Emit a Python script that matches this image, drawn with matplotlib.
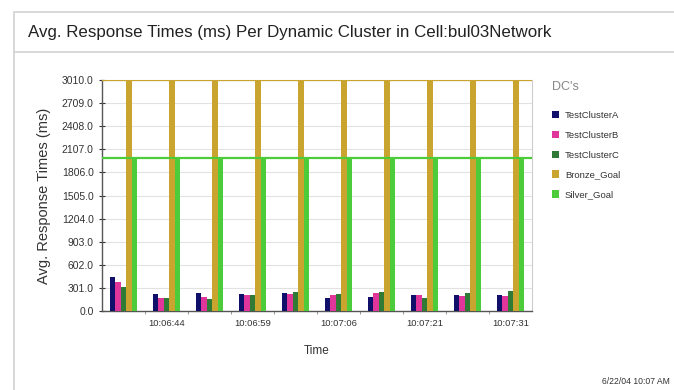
import matplotlib
matplotlib.use("Agg")
import matplotlib.pyplot as plt
import numpy as np
from matplotlib.patches import Rectangle
from matplotlib.lines import Line2D

plt.rcParams['font.family'] = ['Liberation Sans', 'DejaVu Sans']

# Sample times (only every other sample is labelled on the axis)
tick_labels = ["", "10:06:44", "", "10:06:59", "", "10:07:06", "", "10:07:21", "", "10:07:31"]

series_names = ["TestClusterA", "TestClusterB", "TestClusterC", "Bronze_Goal", "Silver_Goal"]
cluster_a = [447, 221, 234, 221, 234, 173, 182, 208, 208, 208]
cluster_b = [382, 173, 186, 208, 221, 208, 234, 208, 196, 196]
cluster_c = [317, 173, 156, 208, 247, 221, 247, 175, 234, 260]
bronze_goal = [3010] * 10
silver_goal = [2000] * 10

y_ticks = [0.0, 301.0, 602.0, 903.0, 1204.0, 1505.0, 1806.0, 2107.0, 2408.0, 2709.0, 3010.0]

colors = ["#10106a", "#e0359a", "#2f7a34", "#c9a42e", "#4ccc3a"]

fig = plt.figure(figsize=(6.74, 3.90), dpi=100)
fig.patch.set_facecolor("white")

# Outer panel frame and title band
frame = Rectangle((14 / 674, -0.01), 1.0, 1 - 12 / 390 + 0.01, transform=fig.transFigure,
                  fill=False, edgecolor="#d2d2d2", linewidth=1.2)
fig.add_artist(frame)
fig.add_artist(Line2D([14 / 674, 1.0], [1 - 52 / 390] * 2, transform=fig.transFigure,
                      color="#d2d2d2", linewidth=1.2))
fig.text(28 / 674, 1 - 33 / 390, "Avg. Response Times (ms) Per Dynamic Cluster in Cell:bul03Network",
         fontsize=12.2, color="#222222", va="center", ha="left")

ax = fig.add_axes([102 / 674, 1 - 311 / 390, 430 / 674, 231 / 390])

series = [cluster_a, cluster_b, cluster_c, bronze_goal, silver_goal]
n = len(tick_labels)
x = np.arange(n)
bw = 0.125
for i, (vals, col, name) in enumerate(zip(series, colors, series_names)):
    ax.bar(x + (i - 2) * bw, vals, width=bw, color=col, label=name, zorder=3, linewidth=0)

# Goal lines across the whole plot
ax.axhline(bronze_goal[0], color=colors[3], linewidth=1.6, zorder=4)
ax.axhline(silver_goal[0], color=colors[4], linewidth=1.6, zorder=4)

ax.set_xlim(-0.5, n - 0.5)
ax.set_ylim(0, 3010)
ax.set_yticks(y_ticks)
ax.set_yticklabels([f"{v:.1f}" for v in y_ticks])
ax.set_xticks(x)
ax.set_xticklabels(tick_labels)
ax.set_xticks(np.arange(n - 1) + 0.5, minor=True)
ax.tick_params(axis="x", which="major", length=0, labelsize=6.8, pad=6, colors="#333333")
ax.tick_params(axis="x", which="minor", length=2, color="#888888")
ax.tick_params(axis="y", length=4, direction="inout", labelsize=7.5, colors="#333333", pad=4)
ax.grid(axis="y", color="#e2e2e2", linewidth=0.8, zorder=0)
for s in ["left", "bottom"]:
    ax.spines[s].set_color("#555555")
    ax.spines[s].set_linewidth(1.0)
for s in ["top", "right"]:
    ax.spines[s].set_color("#cccccc")
    ax.spines[s].set_linewidth(0.8)

ax.set_ylabel("Avg. Response Times (ms)", fontsize=10.5, color="#333333", labelpad=8)
ax.set_xlabel("Time", fontsize=8.5, color="#333333", labelpad=12)

leg = ax.legend(loc="upper left", bbox_to_anchor=(548 / 674, 1 - 107 / 390),
                bbox_transform=fig.transFigure, frameon=False, fontsize=6.8,
                handlelength=0.8, handleheight=0.8, handletextpad=0.6,
                labelspacing=1.15, borderaxespad=0)
for t in leg.get_texts():
    t.set_color("#333333")
fig.text(552 / 674, 1 - 87 / 390, "DC's", fontsize=9, color="#888888", ha="left", va="center")

fig.text(670 / 674, 1 - 381 / 390, "6/22/04 10:07 AM", fontsize=6.2, color="#333333",
         ha="right", va="center")

fig.savefig("out.png", dpi=100)
